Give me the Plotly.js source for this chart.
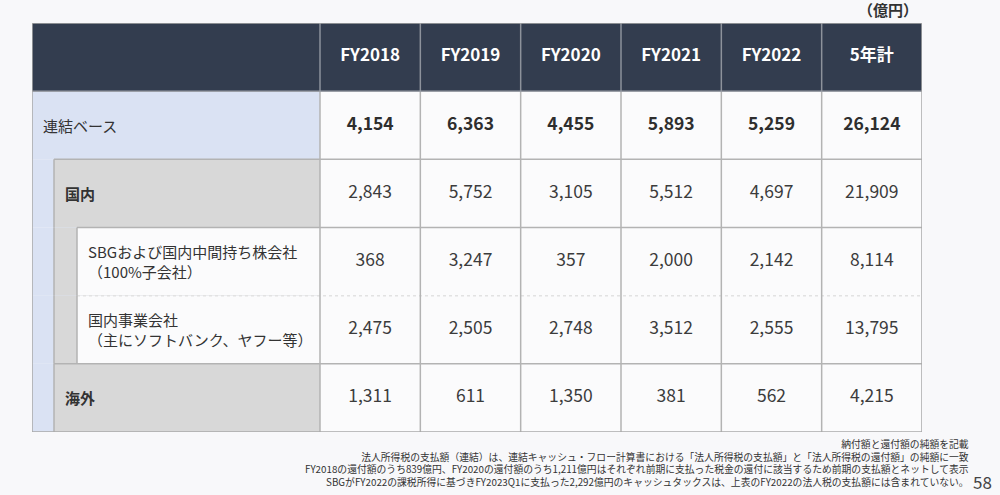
<!DOCTYPE html>
<html>
<head>
<meta charset="utf-8">
<script src="https://cdn.plot.ly/plotly-3.0.1.min.js"></script>
<style>
  html, body { margin: 0; padding: 0; background: #f8f8fa; }
  #chart { width: 1000px; height: 495px; }
</style>
</head>
<body>
<div id="chart"></div>
<script>
// ---------- data ----------
const columns = ['FY2018', 'FY2019', 'FY2020', 'FY2021', 'FY2022', '5年計'];
const rowLabels = [
  '連結ベース',
  '国内',
  'SBGおよび国内中間持ち株会社<br>（100%子会社）',
  '国内事業会社<br>（主にソフトバンク、ヤフー等）',
  '海外'
];
const rowLevels = [0, 1, 2, 2, 1];
const consolidated      = [4154, 6363, 4455, 5893, 5259, 26124];
const domestic          = [2843, 5752, 3105, 5512, 4697, 21909];
const sbgHolding        = [368, 3247, 357, 2000, 2142, 8114];
const domesticOperating = [2475, 2505, 2748, 3512, 2555, 13795];
const overseas          = [1311, 611, 1350, 381, 562, 4215];
const unitLabel = '（億円）';
const footnotes = [
  '納付額と還付額の純額を記載',
  '法人所得税の支払額（連結）は、連結キャッシュ・フロー計算書における「法人所得税の支払額」と「法人所得税の還付額」の純額に一致',
  'FY2018の還付額のうち839億円、FY2020の還付額のうち1,211億円はそれぞれ前期に支払った税金の還付に該当するため前期の支払額とネットして表示',
  'SBGがFY2022の課税所得に基づきFY2023Q1に支払った2,292億円のキャッシュタックスは、上表のFY2022の法人税の支払額には含まれていない。'
];
const pageNumber = '58';

const rowValues = [consolidated, domestic, sbgHolding, domesticOperating, overseas];

// ---------- layout geometry (styling) ----------
const FONT = '"Noto Sans CJK JP", "Noto Sans", sans-serif';
const M = { l: 32, r: 78, t: 23, b: 63 };
const plotW = 1000 - M.l - M.r;   // 890
const plotH = 495 - M.t - M.b;    // 409
const nCols = columns.length;
const nRows = rowLabels.length;
const LABEL_W = 288 / (602 / nCols);           // label column width in column units
const xMin = -LABEL_W, xMax = nCols;
const pxX = px => px * (xMax - xMin) / plotW;
const INDENT = [0, pxX(22), pxX(45)];
const levelFill = ['#dae2f3', '#d8d8d8', '#fbfbfc'];
const lineCol = '#b3b3b3';

const shapes = [];
function rect(x0, x1, y0, y1, fill, line) {
  shapes.push({ type: 'rect', xref: 'x', yref: 'y', x0, x1, y0, y1,
    fillcolor: fill, line: line || { width: 0 }, layer: 'below' });
}
function seg(x0, x1, y0, y1, color, width, dash) {
  shapes.push({ type: 'line', xref: 'x', yref: 'y', x0, x1, y0, y1,
    line: { color, width, dash: dash || 'solid' }, layer: 'below' });
}

// header background
rect(xMin, xMax, -1, 0, '#333d4f');
// value area background
rect(0, xMax, 0, nRows, '#fbfbfc');
// nested label cells
rowLabels.forEach((_, r) => {
  for (let l = 0; l <= rowLevels[r]; l++) {
    rect(xMin + INDENT[l], 0, r, r + 1, levelFill[l]);
  }
});
// horizontal row separators
for (let r = 1; r < nRows; r++) {
  const same = rowLevels[r] === rowLevels[r - 1] && rowLevels[r] > 1;
  seg(xMin + INDENT[rowLevels[r]], xMax, r, r,
      same ? '#e2e2e2' : lineCol, 1.5, same ? 'dot' : 'solid');
}
// vertical edges of nested label boxes
rowLabels.forEach((_, r) => {
  for (let l = 1; l <= rowLevels[r]; l++) {
    seg(xMin + INDENT[l], xMin + INDENT[l], r, r + 1, lineCol, 1.5);
  }
});
// column separators
for (let c = 0; c < nCols; c++) {
  seg(c, c, -1, 0, '#8d929b', 1.5);
  seg(c, c, 0, nRows, lineCol, 1.5);
}
// header bottom and outer border
seg(xMin, xMax, 0, 0, '#9a9ea6', 1.5);
shapes.push({ type: 'rect', xref: 'x', yref: 'y', x0: xMin, x1: xMax, y0: -1, y1: nRows,
  line: { color: '#a9a9a9', width: 1.5 }, fillcolor: 'rgba(0,0,0,0)', layer: 'below' });

// ---------- traces: numbers ----------
const fmt = v => v.toLocaleString('en-US');
const traces = rowValues.map((vals, r) => ({
  type: 'scatter', mode: 'text',
  x: columns.map((_, i) => i + 0.5),
  y: columns.map(() => r + 0.5),
  text: vals.map(fmt),
  textposition: 'middle center',
  textfont: { family: FONT, size: 17.5, color: r === 0 ? '#2e2e2e' : '#3c3c3c',
              weight: r === 0 ? 700 : 400 },
  hoverinfo: 'skip', showlegend: false, cliponaxis: false
}));
// header labels
traces.push({
  type: 'scatter', mode: 'text',
  x: columns.map((_, i) => i + 0.5),
  y: columns.map(() => -0.5),
  text: columns,
  textposition: 'middle center',
  textfont: { family: FONT, size: 17, color: '#ffffff', weight: 700 },
  hoverinfo: 'skip', showlegend: false, cliponaxis: false
});

// ---------- annotations ----------
const annotations = rowLabels.map((lab, r) => ({
  xref: 'x', yref: 'y', x: xMin + INDENT[rowLevels[r]] + pxX(9), y: r + 0.5,
  xanchor: 'left', yanchor: 'middle', align: 'left', showarrow: false,
  text: rowLevels[r] === 1 ? '<b>' + lab + '</b>' : lab,
  font: { family: FONT, size: 15, color: '#333333' }
}));
annotations.push({
  xref: 'x', yref: 'y', x: xMax - pxX(2), y: -1, xanchor: 'right', yanchor: 'bottom',
  yshift: 1, showarrow: false, text: '<b>' + unitLabel + '</b>',
  font: { family: FONT, size: 15, color: '#333333' }
});
// footnotes as one right-aligned block
annotations.push({
  xref: 'paper', yref: 'paper', x: (970 - M.l) / plotW, y: (495 - M.b - 436) / plotH,
  xanchor: 'right', yanchor: 'top', align: 'right', showarrow: false, borderpad: 0,
  text: footnotes.join('<br>'), font: { family: FONT, size: 9.8, color: '#333333' }
});
annotations.push({
  xref: 'paper', yref: 'paper', x: (993 - M.l) / plotW, y: (495 - M.b - 481) / plotH,
  xanchor: 'right', yanchor: 'middle', showarrow: false, borderpad: 0,
  text: pageNumber, font: { family: FONT, size: 17, color: '#444444' }
});

const layout = {
  width: 1000, height: 495,
  margin: M,
  paper_bgcolor: '#f8f8fa', plot_bgcolor: 'rgba(0,0,0,0)',
  xaxis: { range: [xMin, xMax], visible: false, fixedrange: true },
  yaxis: { range: [nRows, -1], visible: false, fixedrange: true },
  shapes, annotations,
  showlegend: false
};

Plotly.newPlot('chart', traces, layout, { staticPlot: true, displayModeBar: false });
</script>
</body>
</html>
